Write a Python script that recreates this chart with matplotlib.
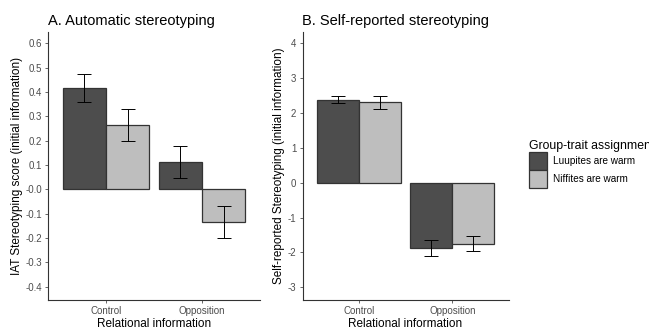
import numpy as np
import matplotlib
matplotlib.use("Agg")
import matplotlib.pyplot as plt
from matplotlib.patches import Patch

plt.rcParams['font.family'] = ['Liberation Sans', 'DejaVu Sans']

conditions = ["Control", "Opposition"]
groups = ["Luupites are warm", "Niffites are warm"]
colors = ["#4D4D4D", "#BEBEBE"]

# panel A: IAT scores (mean, lower, upper)
iat_mean = [[0.415, 0.112], [0.262, -0.135]]
iat_low = [[0.360, 0.045], [0.200, -0.202]]
iat_high = [[0.475, 0.178], [0.330, -0.070]]

# panel B: self-reported
self_mean = [[2.38, -1.87], [2.30, -1.75]]
self_low = [[2.27, -2.09], [2.12, -1.96]]
self_high = [[2.48, -1.65], [2.48, -1.54]]

fig = plt.figure(figsize=(6.49, 3.32), dpi=100)
W, H = 649, 332
axA = fig.add_axes([48.4 / W, 32 / H, 211.2 / W, 268 / H])
axB = fig.add_axes([302.5 / W, 32 / H, 206 / W, 268 / H])


def draw(ax, means, lows, highs, ylim, yticks, ylabel, title, fmt):
    x = np.arange(1, len(conditions) + 1)
    w = 0.45
    for i, g in enumerate(groups):
        xs = x + (i - 0.5) * w
        m = np.array(means[i])
        ax.bar(xs, m, width=w, color=colors[i], edgecolor="#333333", linewidth=0.9, zorder=2)
        ax.errorbar(xs, m, yerr=[m - np.array(lows[i]), np.array(highs[i]) - m],
                    fmt="none", ecolor="black", elinewidth=0.7, capsize=5, capthick=0.7, zorder=3)
    ax.set_xlim(0.4, 2.6)
    ax.set_ylim(*ylim)
    ax.set_xticks(x)
    ax.set_xticklabels(conditions)
    ax.set_yticks(yticks)
    ax.set_yticklabels([fmt.format(v) for v in yticks])
    for s in ["top", "right"]:
        ax.spines[s].set_visible(False)
    for s in ["left", "bottom"]:
        ax.spines[s].set_color("#333333")
        ax.spines[s].set_linewidth(0.8)
    ax.tick_params(axis="both", labelsize=7, colors="#4D4D4D", length=2.5, width=0.6, pad=2)
    ax.set_xlabel("Relational information", fontsize=8.5, labelpad=1)
    ax.set_ylabel(ylabel, fontsize=8.5, labelpad=2)
    ax.set_title(title, loc="left", fontsize=10.5, pad=5)


draw(axA, iat_mean, iat_low, iat_high, (-0.455, 0.646),
     np.round(np.arange(-0.4, 0.61, 0.1), 1),
     "IAT Stereotyping score (initial information)", "A. Automatic stereotyping", "{:.1f}")
draw(axB, self_mean, self_low, self_high, (-3.364, 4.32),
     np.arange(-3, 5, 1),
     "Self-reported Stereotyping (initial information)", "B. Self-reported stereotyping", "{:d}")

handles = [Patch(facecolor=c, edgecolor="#333333", linewidth=0.9) for c in colors]
leg = fig.legend(handles, groups, title="Group-trait assignment", loc="upper left",
                 bbox_to_anchor=(525 / W, 1 - 136 / H), frameon=False, fontsize=7.2,
                 title_fontsize=8.8, handlelength=1.8, handleheight=2.4, labelspacing=0,
                 handletextpad=0.6, borderaxespad=0)
leg._legend_box.align = "left"

fig.savefig("out.png", dpi=100)
